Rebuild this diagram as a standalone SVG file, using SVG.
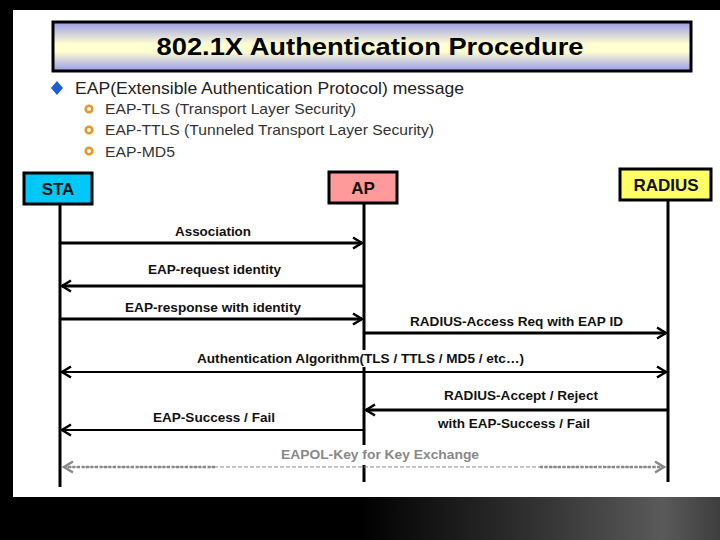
<svg xmlns="http://www.w3.org/2000/svg" width="720" height="540" viewBox="0 0 720 540">
<style>
.lbl{font-family:"Liberation Sans",Arial,sans-serif;font-weight:bold;font-size:13px;fill:#111;text-anchor:middle}
.sub{font-family:"Liberation Sans",Arial,sans-serif;font-size:15px;fill:#333}
.node text{font-family:"Liberation Sans",Arial,sans-serif;font-weight:bold;font-size:17px;fill:#111;text-anchor:middle}
.node rect{stroke:#000;stroke-width:3}
.life{stroke:#000;stroke-width:3}
.msg{stroke:#000;stroke-width:3;fill:none}
.thin{stroke:#000;stroke-width:2;fill:none}
.bgbox{fill:#fff}
</style>
<defs>
<linearGradient id="tg" x1="0" y1="0" x2="0" y2="1">
<stop offset="0" stop-color="#9a9aea"/>
<stop offset="0.45" stop-color="#ffffd0"/>
<stop offset="0.6" stop-color="#ffffd0"/>
<stop offset="1" stop-color="#9a9aea"/>
</linearGradient>
<linearGradient id="bg" x1="0" y1="0" x2="720" y2="0" gradientUnits="userSpaceOnUse">
<stop offset="0" stop-color="#000"/>
<stop offset="0.5" stop-color="#000"/>
<stop offset="0.75" stop-color="#333"/>
<stop offset="0.92" stop-color="#5a5a5a"/>
<stop offset="1" stop-color="#3e3e3e"/>
</linearGradient>
<marker id="ah" markerUnits="userSpaceOnUse" markerWidth="14" markerHeight="14" refX="11" refY="7" orient="auto-start-reverse" viewBox="0 0 14 14">
<path d="M2,1.5 L11,7 L2,12.5" fill="none" stroke="#000" stroke-width="2.5"/>
</marker>
<marker id="ahg" markerUnits="userSpaceOnUse" markerWidth="14" markerHeight="14" refX="11" refY="7" orient="auto-start-reverse" viewBox="0 0 14 14">
<path d="M2,1.5 L11,7 L2,12.5" fill="none" stroke="#888" stroke-width="2.5"/>
</marker>
</defs>
<rect x="0" y="0" width="720" height="540" fill="#000"/>
<rect x="0" y="497" width="720" height="43" fill="url(#bg)"/>
<rect x="13" y="10" width="707" height="487" fill="#fff"/>

<g id="title">
<rect x="53" y="22" width="638" height="49" fill="url(#tg)" stroke="#000" stroke-width="3"/>
<text x="370" y="55" font-family="'Liberation Sans',Arial,sans-serif" font-weight="bold" font-size="24" fill="#000" text-anchor="middle" textLength="427" lengthAdjust="spacingAndGlyphs">802.1X Authentication Procedure</text>
</g>

<g id="bullets">
<path d="M57,81 L63,88 L57,95 L51,88 Z" fill="#1a5fd8"/>
<text x="75" y="94" font-family="'Liberation Sans',Arial,sans-serif" font-size="17" fill="#222" textLength="389" lengthAdjust="spacingAndGlyphs">EAP(Extensible Authentication Protocol) message</text>
<circle cx="89" cy="109" r="3.3" fill="none" stroke="#e8962a" stroke-width="2.6"/>
<text class="sub" x="105" y="114" textLength="251" lengthAdjust="spacingAndGlyphs">EAP-TLS (Transport Layer Security)</text>
<circle cx="89" cy="130" r="3.3" fill="none" stroke="#e8962a" stroke-width="2.6"/>
<text class="sub" x="105" y="135" textLength="329" lengthAdjust="spacingAndGlyphs">EAP-TTLS (Tunneled Transport Layer Security)</text>
<circle cx="89" cy="151" r="3.3" fill="none" stroke="#e8962a" stroke-width="2.6"/>
<text class="sub" x="105" y="157" textLength="70" lengthAdjust="spacingAndGlyphs">EAP-MD5</text>
<rect x="13" y="157" width="707" height="10" fill="#fff"/>
</g>

<g id="STA" class="node">
<rect x="24" y="173" width="68" height="31" fill="#00c8f8"/>
<text x="58" y="195">STA</text>
</g>
<g id="AP" class="node">
<rect x="329" y="172" width="68" height="31" fill="#ff9a9a"/>
<text x="363" y="194">AP</text>
</g>
<g id="RADIUS" class="node">
<rect x="620" y="169" width="91" height="31" fill="#ffff66"/>
<text x="666" y="191" font-size="16">RADIUS</text>
</g>

<g id="lifelines">
<line class="life" x1="60" y1="204" x2="60" y2="487" stroke-width="2.5"/>
<line class="life" x1="364" y1="203" x2="364" y2="482"/>
<line class="life" x1="668" y1="200" x2="668" y2="482"/>
</g>

<g id="connectors">
<line class="msg" x1="61" y1="243" x2="362" y2="243" marker-end="url(#ah)"/>
<text class="lbl" x="213" y="236" textLength="76" lengthAdjust="spacingAndGlyphs">Association</text>

<line class="msg" x1="363" y1="286" x2="62" y2="286" marker-end="url(#ah)"/>
<text class="lbl" x="214.5" y="274" textLength="133" lengthAdjust="spacingAndGlyphs">EAP-request identity</text>

<line class="msg" x1="61" y1="319" x2="362" y2="319" marker-end="url(#ah)"/>
<text class="lbl" x="213" y="312" textLength="176" lengthAdjust="spacingAndGlyphs">EAP-response with identity</text>

<line class="msg" x1="365" y1="333" x2="666" y2="333" marker-end="url(#ah)"/>
<text class="lbl" x="516.5" y="326" textLength="213" lengthAdjust="spacingAndGlyphs">RADIUS-Access Req with EAP ID</text>

<rect class="bgbox" x="195" y="350" width="332" height="17"/>
<line class="thin" x1="62" y1="372" x2="666" y2="372" marker-start="url(#ah)" marker-end="url(#ah)"/>
<text class="lbl" x="360.5" y="363" textLength="327" lengthAdjust="spacingAndGlyphs">Authentication Algorithm(TLS / TTLS / MD5 / etc…)</text>

<line class="msg" x1="667" y1="410" x2="366" y2="410" marker-end="url(#ah)"/>
<text class="lbl" x="521" y="400" textLength="154" lengthAdjust="spacingAndGlyphs">RADIUS-Accept / Reject</text>
<text class="lbl" x="514" y="428" textLength="152" lengthAdjust="spacingAndGlyphs">with EAP-Success / Fail</text>

<line class="thin" x1="363" y1="430" x2="62" y2="430" marker-end="url(#ah)"/>
<text class="lbl" x="214" y="422" textLength="122" lengthAdjust="spacingAndGlyphs">EAP-Success / Fail</text>

<rect class="bgbox" x="279" y="445" width="204" height="20"/>
<line x1="64" y1="467" x2="664" y2="467" stroke="#888" stroke-width="1" stroke-dasharray="4 2" marker-start="url(#ahg)" marker-end="url(#ahg)"/>
<line x1="68" y1="467" x2="216" y2="467" stroke="#888" stroke-width="2.5" stroke-dasharray="3 1.5"/>
<line x1="540" y1="467" x2="660" y2="467" stroke="#888" stroke-width="2.5" stroke-dasharray="3 1.5"/>
<text class="lbl" x="380" y="459" style="fill:#888" textLength="198" lengthAdjust="spacingAndGlyphs">EAPOL-Key for Key Exchange</text>
</g>
</svg>
